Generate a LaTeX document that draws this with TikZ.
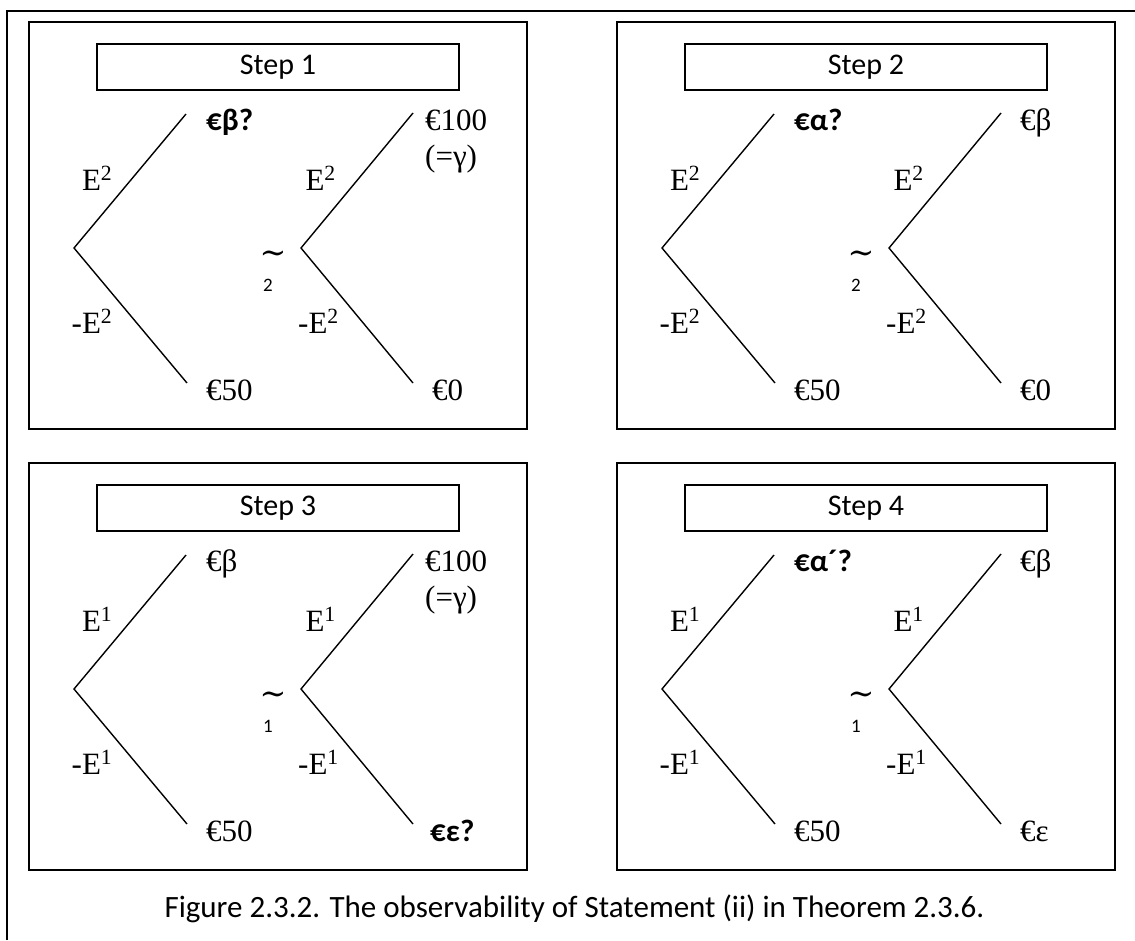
\documentclass[tikz,border=0pt]{standalone}
\usepackage{fontspec}
\setmainfont{Liberation Serif}
\newfontfamily\calib{Carlito}
\newfontfamily\symfont{DejaVu Serif}

\tikzset{
  frame/.style={line width=1.9pt},
  panelbox/.style={draw, line width=1.6pt, inner sep=0pt, outer sep=0pt,
    minimum width=498pt, minimum height=407pt, anchor=north west},
  stepbox/.style={draw, line width=1.6pt, inner sep=0pt,
    minimum width=362pt, minimum height=46pt,
    font=\calib\fontsize{30}{34}\selectfont},
  branch/.style={line width=1.4pt},
  lbl/.style={inner sep=0pt, font=\fontsize{31}{36}\selectfont},
  qlbl/.style={inner sep=0pt, font=\calib\bfseries\fontsize{31}{36}\selectfont},
  idx/.style={inner sep=0pt, font=\calib\fontsize{19}{22}\selectfont},
  relsym/.style={inner sep=0pt, font=\symfont\fontsize{32}{36}\selectfont},
  capt/.style={inner sep=0pt, font=\calib\fontsize{31}{35}\selectfont},
}

% Parts shared by every step panel: frame, title box, the two
% event trees, their branch labels, the indifference sign and the €50 leaf.
\newcommand\commonpanel[3]{%
  \node[panelbox] (#1box) at (0,0) {};
  \node[stepbox] (#1step) at (249,45) {#2};
  \coordinate (#1A)  at (45,226);
  \coordinate (#1Au) at (157,92);
  \coordinate (#1Ad) at (158,361);
  \coordinate (#1B)  at (272,226);
  \coordinate (#1Bu) at (384,91);
  \coordinate (#1Bd) at (384,361);
  \draw[branch] (#1Au) -- (#1A) -- (#1Ad);
  \draw[branch] (#1Bu) -- (#1B) -- (#1Bd);
  \node[lbl, anchor=base east] (#1Ae) at (83.5,168) {E\textsuperscript{#3}};
  \node[lbl, anchor=base east] (#1An) at (83.5,311) {-E\textsuperscript{#3}};
  \node[lbl, anchor=base east] (#1Be) at (307,168) {E\textsuperscript{#3}};
  \node[lbl, anchor=base east] (#1Bn) at (310,311) {-E\textsuperscript{#3}};
  \node[relsym] (#1sim) at (244,235) {∼};
  \node[idx] (#1idx) at (239,263) {#3};
  \node[lbl, anchor=base west] (#1Adl) at (177,378) {€50};
}

\begin{document}
\begin{tikzpicture}[x=1pt, y=-1pt]
\useasboundingbox (0,0) rectangle (1135,940);

% outer frame (top and left edges)
\coordinate (fbl) at (6.7,940);
\coordinate (ftl) at (6.7,11);
\coordinate (ftr) at (1135,11);
\draw[frame] (fbl) -- (ftl) -- (ftr);

% Step 1
\begin{scope}[shift={(29,22)}]
  \commonpanel{p1}{Step 1}{2}
  \node[qlbl, anchor=base west] (p1Aul) at (177,108) {€β?};
  \node[lbl, anchor=base west] (p1Bul) at (396,108) {€100};
  \node[lbl, anchor=base west] (p1Bg)  at (396,144) {(=γ)};
  \node[lbl, anchor=base west] (p1Bdl) at (403,378) {€0};
\end{scope}

% Step 2
\begin{scope}[shift={(617,22)}]
  \commonpanel{p2}{Step 2}{2}
  \node[qlbl, anchor=base west] (p2Aul) at (177,108) {€α?};
  \node[lbl, anchor=base west] (p2Bul) at (403,108) {€β};
  \node[lbl, anchor=base west] (p2Bdl) at (403,378) {€0};
\end{scope}

% Step 3
\begin{scope}[shift={(29,463)}]
  \commonpanel{p3}{Step 3}{1}
  \node[lbl, anchor=base west] (p3Aul) at (177,108) {€β};
  \node[lbl, anchor=base west] (p3Bul) at (396,108) {€100};
  \node[lbl, anchor=base west] (p3Bg)  at (396,144) {(=γ)};
  \node[qlbl, anchor=base west] (p3Bdl) at (401,378) {€ε?};
\end{scope}

% Step 4
\begin{scope}[shift={(617,463)}]
  \commonpanel{p4}{Step 4}{1}
  \node[qlbl, anchor=base west] (p4Aul) at (177,108) {€α´?};
  \node[lbl, anchor=base west] (p4Bul) at (403,108) {€β};
  \node[lbl, anchor=base west] (p4Bdl) at (403,378) {€ε};
\end{scope}

\node[capt, anchor=base] (caption) at (574.5,917)
  {Figure 2.3.2. The observability of Statement (ii) in Theorem 2.3.6.};
\end{tikzpicture}
\end{document}
